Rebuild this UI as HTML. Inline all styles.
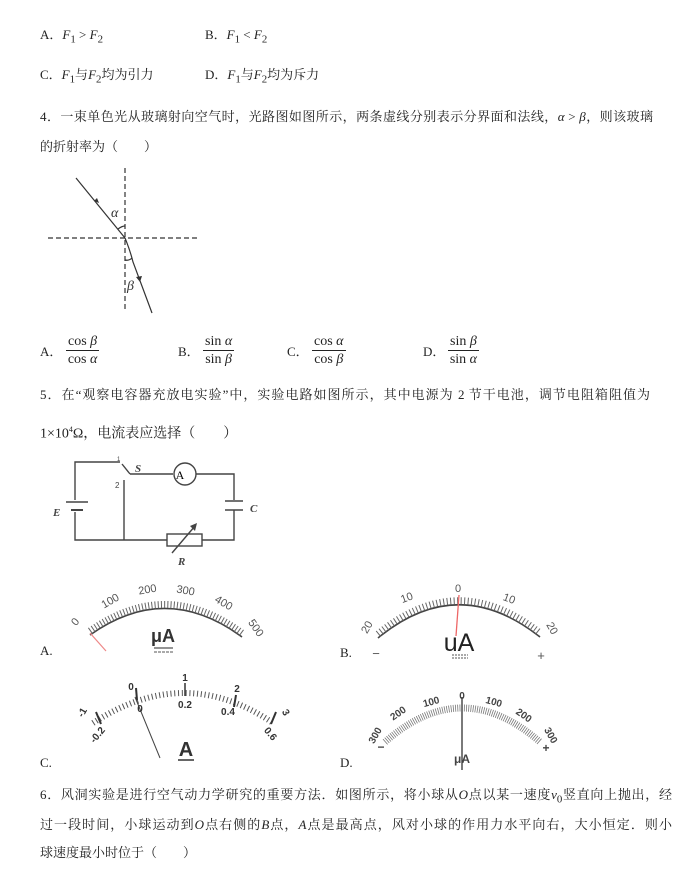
<!DOCTYPE html>
<html><head><meta charset="utf-8"><style>
body{margin:0;width:692px;height:883px;background:#fff;position:relative;overflow:hidden;font-family:"Liberation Serif","Noto Serif CJK SC",serif;font-size:13px;color:#222}
.t{position:absolute;white-space:nowrap;line-height:16px}
.j{text-align:justify;text-align-last:justify}
i{font-style:italic}
.fr{position:absolute;text-align:center;line-height:17px;font-size:14px}
.fr .n{border-bottom:1px solid #222;padding:0 2px}
svg{position:absolute;left:0;top:0}
</style></head><body>
<div class="t" style="left:40px;top:27px">A．<i>F</i><sub>1</sub> &gt; <i>F</i><sub>2</sub></div>
<div class="t" style="left:205px;top:27px">B．<i>F</i><sub>1</sub> &lt; <i>F</i><sub>2</sub></div>
<div class="t" style="left:40px;top:67px">C．<i>F</i><sub>1</sub>与<i>F</i><sub>2</sub>均为引力</div>
<div class="t" style="left:205px;top:67px">D．<i>F</i><sub>1</sub>与<i>F</i><sub>2</sub>均为斥力</div>
<div class="t j" style="left:40px;top:109px;width:613px">4．一束单色光从玻璃射向空气时，光路图如图所示，两条虚线分别表示分界面和法线，<i>α</i> &gt; <i>β</i>，则该玻璃</div>
<div class="t" style="left:40px;top:139px">的折射率为（　　）</div>

<div class="t" style="left:40px;top:344px">A．</div>
<div class="fr" style="left:66px;top:333px"><div class="n">cos <i>β</i></div><div>cos <i>α</i></div></div>
<div class="t" style="left:178px;top:344px">B．</div>
<div class="fr" style="left:203px;top:333px"><div class="n">sin <i>α</i></div><div>sin <i>β</i></div></div>
<div class="t" style="left:287px;top:344px">C．</div>
<div class="fr" style="left:312px;top:333px"><div class="n">cos <i>α</i></div><div>cos <i>β</i></div></div>
<div class="t" style="left:423px;top:344px">D．</div>
<div class="fr" style="left:448px;top:333px"><div class="n">sin <i>β</i></div><div>sin <i>α</i></div></div>

<div class="t j" style="left:40px;top:387px;width:610px">5．在“观察电容器充放电实验”中，实验电路如图所示，其中电源为 2 节干电池，调节电阻箱阻值为</div>
<div class="t" style="left:40px;top:422px;font-size:14px">1×10<sup style="font-size:8px">4</sup>Ω，电流表应选择（　　）</div>

<div class="t" style="left:40px;top:643px">A.</div>
<div class="t" style="left:340px;top:645px">B.</div>
<div class="t" style="left:40px;top:755px">C.</div>
<div class="t" style="left:340px;top:755px">D.</div>

<div class="t j" style="left:40px;top:787px;width:632px">6．风洞实验是进行空气动力学研究的重要方法．如图所示，将小球从<i>O</i>点以某一速度<i>v</i><sub>0</sub>竖直向上抛出，经</div>
<div class="t j" style="left:40px;top:817px;width:632px">过一段时间，小球运动到<i>O</i>点右侧的<i>B</i>点，<i>A</i>点是最高点，风对小球的作用力水平向右，大小恒定．则小</div>
<div class="t" style="left:40px;top:845px">球速度最小时位于（　　）</div>

<svg width="692" height="883" font-family="Liberation Sans, sans-serif">
<!-- refraction -->
<g stroke="#333" stroke-width="1.2" fill="none">
<line x1="125" y1="168" x2="125" y2="310" stroke-dasharray="5,3"/>
<line x1="48" y1="238" x2="200" y2="238" stroke-dasharray="5,3"/>
<line x1="76" y1="178" x2="125" y2="238"/>
<path d="M125,238 Q130,250 133,262 L152,313"/>
<path d="M118,229 Q122,226 125,226"/>
<path d="M125,260 Q129,261 132,258"/>
</g>
<polygon points="99,203 94,201 97,198" fill="#333"/>
<polygon points="140,282 136,277 142,276" fill="#333"/>
<text x="111" y="217" font-family="Liberation Serif" font-style="italic" font-size="14" fill="#333">α</text>
<text x="127" y="290" font-family="Liberation Serif" font-style="italic" font-size="14" fill="#333">β</text>

<!-- circuit -->
<g stroke="#444" stroke-width="1.4" fill="none">
<polyline points="120,462 75,462 75,500"/>
<line x1="66" y1="502" x2="88" y2="502"/>
<line x1="71" y1="510" x2="83" y2="510" stroke-width="2"/>
<polyline points="75,512 75,540 167,540"/>
<line x1="124" y1="480" x2="124" y2="540"/>
<line x1="122" y1="464" x2="130" y2="474"/>
<polyline points="130,474 173,474"/>
<circle cx="185" cy="474" r="11"/>
<polyline points="196,474 234,474 234,500"/>
<line x1="225" y1="501" x2="243" y2="501"/>
<line x1="225" y1="510" x2="243" y2="510"/>
<polyline points="234,510 234,540 202,540"/>
<rect x="167" y="534" width="35" height="12"/>
<line x1="172" y1="553" x2="195" y2="526"/>
</g>
<polygon points="197,523 190,526 195,531" fill="#444"/>
<text x="180" y="479" font-size="12" text-anchor="middle" font-family="Liberation Serif">A</text>
<text x="135" y="472" font-size="11" font-style="italic" font-family="Liberation Serif" font-weight="bold" fill="#444">S</text>
<text x="117" y="461" font-size="6" fill="#444">1</text>
<text x="115" y="488" font-size="8" fill="#444">2</text>
<text x="53" y="516" font-size="11" font-style="italic" font-family="Liberation Serif" font-weight="bold" fill="#444">E</text>
<text x="250" y="512" font-size="11" font-style="italic" font-family="Liberation Serif" font-weight="bold" fill="#444">C</text>
<text x="178" y="565" font-size="11" font-style="italic" font-family="Liberation Serif" font-weight="bold" fill="#444">R</text>

<!-- meter A -->
<g fill="none" stroke="#444">
<path d="M90,635 Q166,581 242,637" stroke-width="1.6"/>
<path d="M90,631 Q166,577 242,633" stroke-width="7" stroke-dasharray="1,2.2" stroke="#666"/>
</g>
<line x1="90" y1="633" x2="106" y2="651" stroke="#e88" stroke-width="1.2"/>
<g font-size="11" fill="#555" text-anchor="middle">
<text x="78" y="624" transform="rotate(-50 78 624)">0</text>
<text x="112" y="604" transform="rotate(-30 112 604)">100</text>
<text x="148" y="593" transform="rotate(-10 148 593)">200</text>
<text x="185" y="594" transform="rotate(10 185 594)">300</text>
<text x="222" y="606" transform="rotate(30 222 606)">400</text>
<text x="253" y="630" transform="rotate(55 253 630)">500</text>
<text x="163" y="642" font-size="18" font-weight="bold" fill="#333">μA</text>
</g>
<line x1="154" y1="648" x2="173" y2="648" stroke="#555" stroke-width="1.3"/>
<line x1="154" y1="652" x2="173" y2="652" stroke="#555" stroke-dasharray="3,1"/>

<!-- meter B -->
<g fill="none" stroke="#444">
<path d="M378,638 Q458,572 540,637" stroke-width="1.6"/>
<path d="M378,634 Q458,568 540,633" stroke-width="7" stroke-dasharray="1,2.5" stroke="#666"/>
</g>
<line x1="459" y1="595" x2="456" y2="636" stroke="#e66" stroke-width="1.3"/>
<g font-size="11" fill="#555" text-anchor="middle">
<text x="370" y="629" transform="rotate(-60 370 629)">20</text>
<text x="408" y="601" transform="rotate(-20 408 601)">10</text>
<text x="458" y="592">0</text>
<text x="508" y="602" transform="rotate(20 508 602)">10</text>
<text x="549" y="630" transform="rotate(60 549 630)">20</text>
<text x="376" y="658" font-size="13">−</text>
<text x="541" y="660" font-size="13">+</text>
<text x="459" y="651" font-size="25" fill="#222">uA</text>
</g>
<line x1="452" y1="655" x2="468" y2="655" stroke="#555" stroke-dasharray="2,1"/>
<line x1="452" y1="658" x2="468" y2="658" stroke="#555" stroke-dasharray="2,1"/>

<!-- meter C -->
<g fill="none" stroke="#444">
<path d="M93,723 Q185,663 273,723" stroke-width="6" stroke-dasharray="1,2.8" stroke="#555"/>
</g>
<line x1="135" y1="697" x2="160" y2="758" stroke="#444" stroke-width="1"/>
<g font-size="10" fill="#333" text-anchor="middle" font-weight="bold">
<text x="85" y="714" transform="rotate(-60 85 714)">-1</text>
<text x="131" y="690">0</text>
<text x="185" y="681">1</text>
<text x="237" y="692">2</text>
<text x="283" y="714" transform="rotate(60 283 714)">3</text>
<text x="100" y="737" transform="rotate(-50 100 737)">-0.2</text>
<text x="140" y="712">0</text>
<text x="185" y="708">0.2</text>
<text x="228" y="715">0.4</text>
<text x="268" y="736" transform="rotate(50 268 736)">0.6</text>
<text x="186" y="756" font-size="20">A</text>
</g>
<line x1="178" y1="760" x2="194" y2="760" stroke="#333" stroke-width="1.5"/>
<line x1="136" y1="688" x2="137" y2="700" stroke="#333" stroke-width="2"/>
<line x1="185" y1="683" x2="185" y2="696" stroke="#333" stroke-width="1.5"/>
<line x1="96" y1="712" x2="101" y2="724" stroke="#333" stroke-width="2"/>
<line x1="236" y1="695" x2="234" y2="707" stroke="#333" stroke-width="2"/>
<line x1="276" y1="712" x2="271" y2="724" stroke="#333" stroke-width="2"/>

<!-- meter D -->
<g fill="none" stroke="#555">
<path d="M385,742 Q462,674 540,742" stroke-width="7" stroke-dasharray="0.8,1.4" stroke="#777"/>
</g>
<line x1="462" y1="697" x2="462" y2="770" stroke="#333" stroke-width="1.3"/>
<g font-size="10" fill="#444" text-anchor="middle" font-weight="bold">
<text x="378" y="737" transform="rotate(-60 378 737)">300</text>
<text x="400" y="716" transform="rotate(-35 400 716)">200</text>
<text x="432" y="705" transform="rotate(-15 432 705)">100</text>
<text x="462" y="699">0</text>
<text x="493" y="705" transform="rotate(15 493 705)">100</text>
<text x="522" y="718" transform="rotate(35 522 718)">200</text>
<text x="548" y="737" transform="rotate(60 548 737)">300</text>
<text x="381" y="751" font-size="12">−</text>
<text x="546" y="752" font-size="12">+</text>
<text x="462" y="763" font-size="12">μA</text>
</g>
</svg>
</body></html>
